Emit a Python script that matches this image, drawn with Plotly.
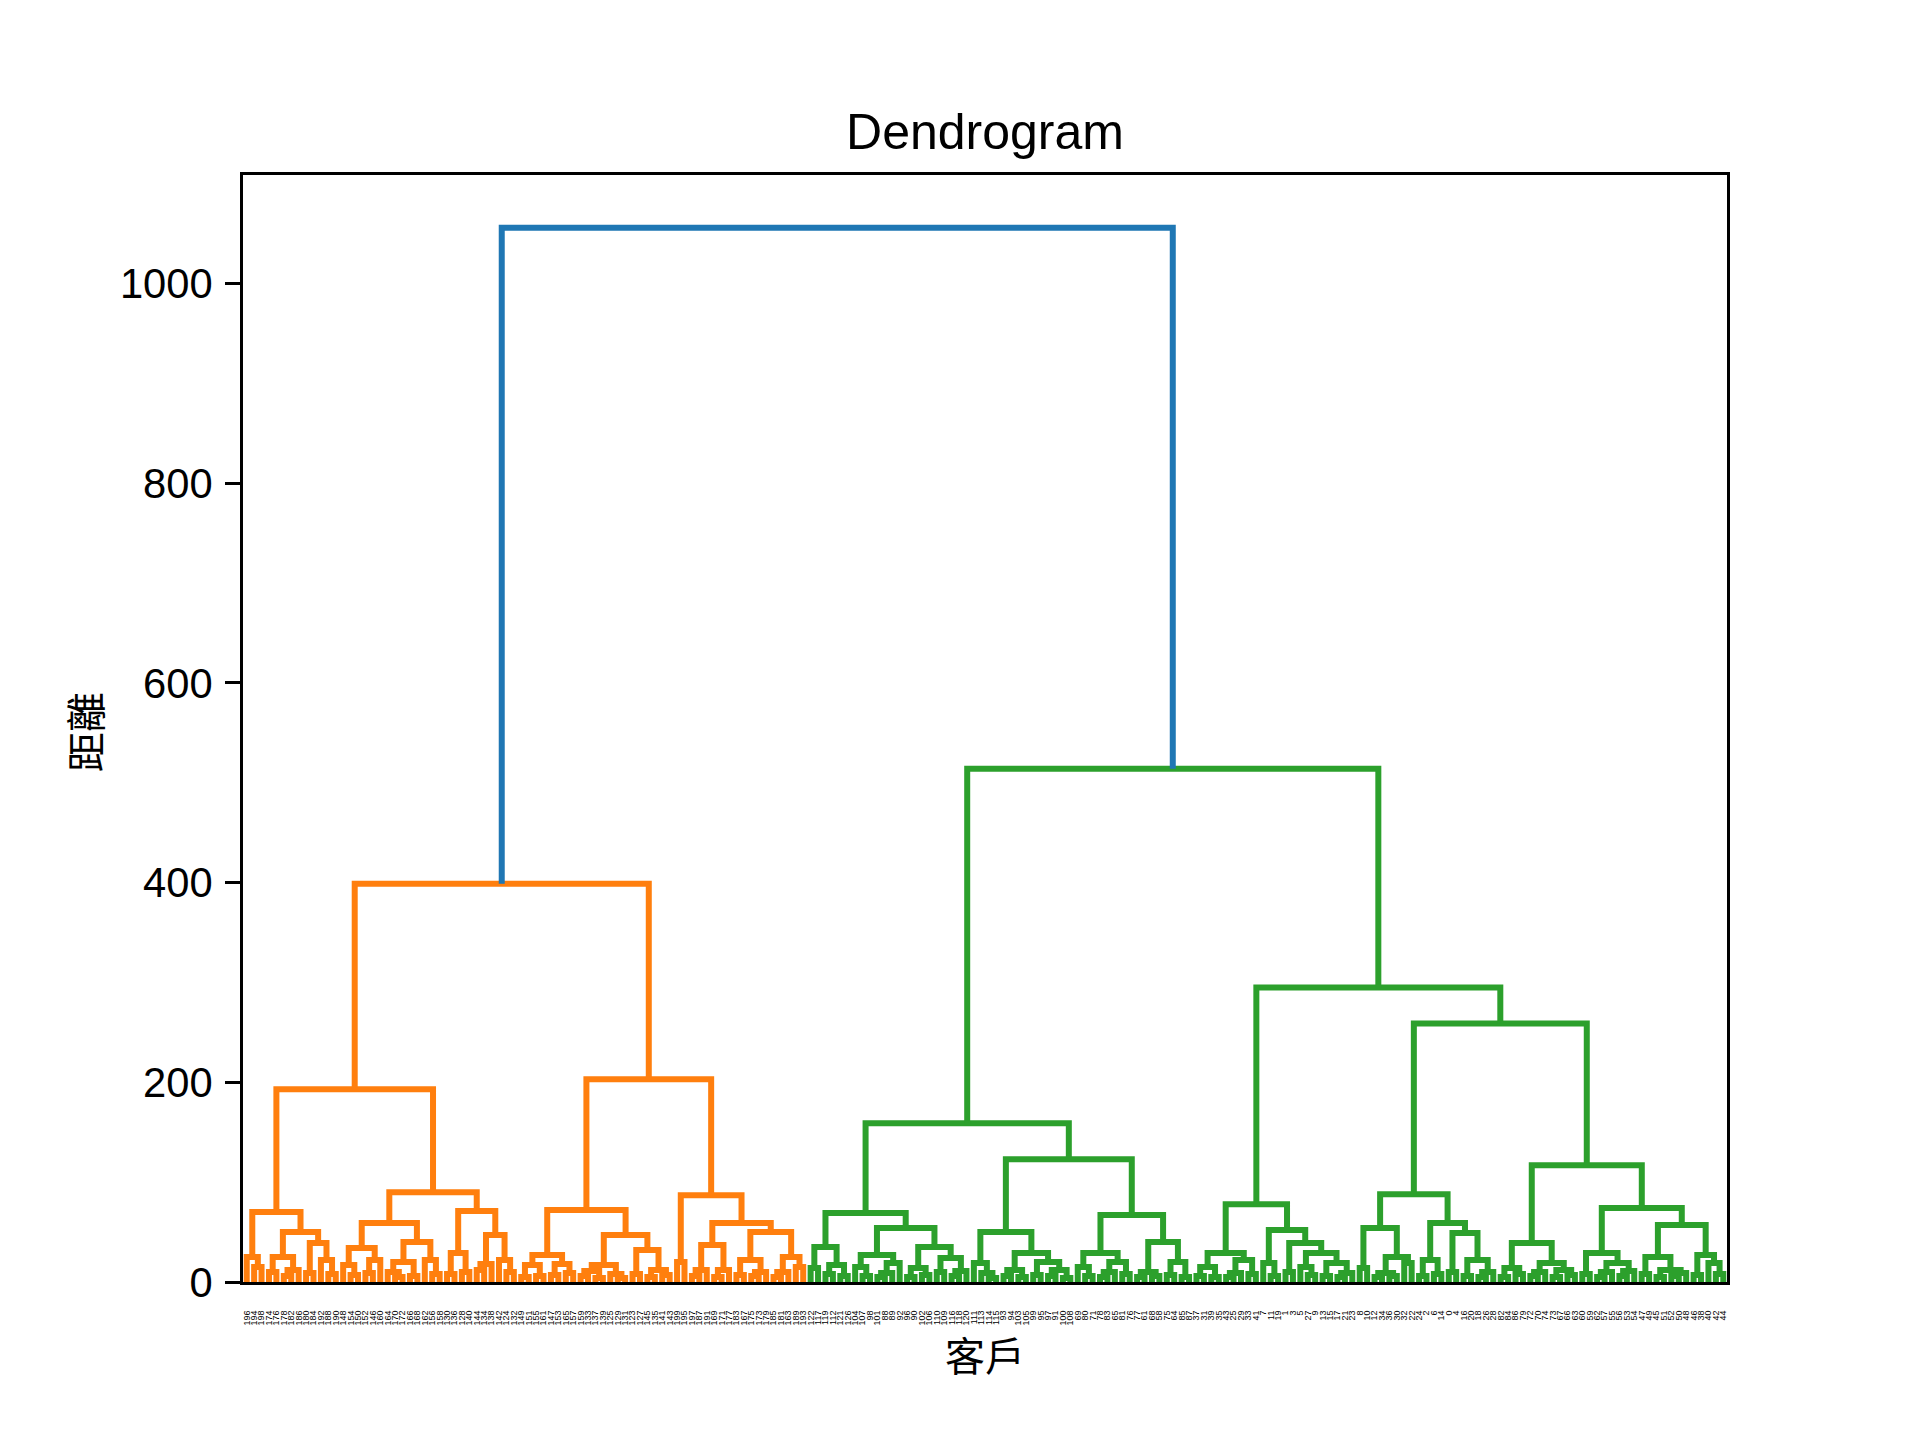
import plotly.graph_objects as go

# ---------------- data ----------------
TITLE = "Dendrogram"
X_TITLE = "客戶"
Y_TITLE = "距離"

# leaf labels, left to right
LEAF_LABELS = [
    196, 194, 198, 174, 176, 178, 182, 186, 180, 184, 192, 188, 190, 148, 154, 150, 152, 146, 160, 164,
    170, 172, 166, 168, 162, 156, 158, 130, 136, 128, 140, 144, 134, 138, 142, 124, 132,
    149, 151, 155, 161, 147, 153, 165, 157, 159, 133, 137, 139, 125, 129, 131, 123, 127, 145, 135,
    141, 143, 199, 195, 197, 187, 191, 169, 171, 177, 183, 167, 175, 173, 179, 185, 181, 163, 189, 193,
    122, 117, 119, 112, 121, 126, 104, 107, 98, 101, 88, 89, 92, 96, 90, 102, 106, 110, 109, 116,
    118, 120, 111, 113,
    114, 115, 93, 94, 103, 105, 99, 95, 97, 91, 100, 108, 69, 80, 71, 78, 83, 65, 81, 76,
    77, 61, 68, 58, 75, 64, 85, 87,
    37, 31, 39, 35, 43, 25, 29, 33, 41, 7, 11, 19, 1, 3, 5, 27, 9, 13, 15, 17, 21, 23,
    8, 10, 12, 34, 36, 30, 32, 22, 24, 2, 6, 14, 0, 4, 16, 20, 18, 26, 28,
    82, 84, 86, 79, 72, 70, 74, 73, 67, 66, 63, 60, 59, 62, 57, 55, 56, 53, 54, 47,
    49, 45, 51, 52, 50, 48, 46, 38, 40, 42, 44,
]

# merge height between each pair of neighbouring leaves (gap i = between leaf i and leaf i+1)
ORANGE_GAPS = [
    25, 15, 70, 10, 25, 6, 12, 50, 9, 39, 22, 8, 193, 17, 7, 34, 9, 22, 59, 10,
    5, 20, 6, 40, 22, 8, 90, 8, 29, 10, 71, 12, 18, 47, 22, 10, 399,
    5, 17, 6, 27, 7, 18, 9, 72, 6, 11, 4, 17, 8, 4, 47, 8, 32, 5, 12,
    7, 203, 20, 87, 6, 12, 37, 5, 12, 59, 7, 22, 6, 10, 50, 5, 10, 25, 15,
]
ROOT_GAP = [1056]
GREEN_GAPS = [
    14, 35, 8, 17, 6, 69, 15, 6, 27, 5, 9, 19, 54, 5, 14, 7, 35, 10, 24, 6,
    11, 159,
    19, 9, 4, 50, 6, 12, 5, 29, 7, 20, 6, 12, 4, 123,
    15, 6, 29, 5, 10, 20, 8, 67, 5, 10, 6, 40, 7, 20, 5,
    514,
    6, 15, 5, 29, 5, 9, 22, 8, 78, 19, 6, 52, 10, 39, 15, 7, 29, 6, 19, 5, 9,
    295,
    14, 54, 5, 9, 6, 25, 19, 88, 6, 22, 8, 59, 10, 49, 6, 22, 5, 10,
    259,
    5, 14, 8, 39, 6, 10, 19, 5, 12, 7, 117, 8, 29, 5, 10, 19, 6, 11, 74, 8,
    25, 5, 12, 6, 9, 57, 7, 27, 19, 8,
]
Y_TICKS = [0, 200, 400, 600, 800, 1000]

# ---------------- build the dendrogram ----------------
gaps = ORANGE_GAPS + ROOT_GAP + GREEN_GAPS
n = len(LEAF_LABELS)
assert len(gaps) == n - 1, len(gaps)
assert sorted(LEAF_LABELS) == list(range(n))

threshold = 0.7 * max(gaps)
palette = ["#ff7f0e", "#2ca02c", "#d62728", "#9467bd", "#8c564b",
           "#e377c2", "#7f7f7f", "#bcbd22", "#17becf"]
above_color = "#1f77b4"
segs = {}
ncol = [0]


def add(color, xs, ys):
    s = segs.setdefault(color, ([], []))
    s[0].extend(xs + [None])
    s[1].extend(ys + [None])


def build(lo, hi, color):
    if lo == hi:
        return 5 + 10 * lo, 0.0
    k = max(range(lo, hi), key=lambda j: gaps[j])
    h = gaps[k]
    if h >= threshold:
        c = above_color
        child = None
    else:
        if color is None:
            color = palette[ncol[0] % len(palette)]
            ncol[0] += 1
        c = color
        child = color
    xl, hl = build(lo, k, child)
    xr, hr = build(k + 1, hi, child)
    add(c, [xl, xl, xr, xr], [hl, h, h, hr])
    return (xl + xr) / 2.0, h


build(0, n - 1, None)

fig = go.Figure()
for color, (xs, ys) in segs.items():
    fig.add_trace(go.Scatter(x=xs, y=ys, mode="lines",
                             line=dict(color=color, width=6),
                             hoverinfo="skip", showlegend=False))

font_main = "Liberation Sans, Arial, sans-serif"
font_cjk = "Noto Sans CJK TC, Noto Sans CJK SC, sans-serif"

fig.update_layout(
    width=1920, height=1440,
    margin=dict(l=235, r=201, t=167, b=166, pad=0),
    paper_bgcolor="white", plot_bgcolor="white",
    title=dict(text=TITLE, x=0.5, xref="paper", xanchor="center",
               y=1 - 123 / 1440, yref="container", yanchor="middle",
               font=dict(family=font_main, size=50, color="black")),
    xaxis=dict(range=[0, 10 * n], tickmode="array",
               tickvals=[5 + 10 * i for i in range(n)],
               ticktext=[str(v) for v in LEAF_LABELS],
               tickangle=-90, ticks="", ticklabelstandoff=22,
               tickfont=dict(family=font_main, size=9, color="black"),
               showline=True, mirror=True, linecolor="black", linewidth=3,
               showgrid=False, zeroline=False),
    yaxis=dict(range=[0, max(gaps) * 1.05], tickmode="array", tickvals=Y_TICKS,
               ticks="outside", ticklen=15, tickwidth=3, tickcolor="black",
               ticklabelstandoff=4,
               tickfont=dict(family=font_main, size=41.7, color="black"),
               showline=True, mirror=True, linecolor="black", linewidth=3,
               showgrid=False, zeroline=False),
    annotations=[
        dict(text=X_TITLE, xref="paper", yref="paper", x=0.5, y=(1282 - 1354) / 1109,
             xanchor="center", yanchor="middle", showarrow=False,
             font=dict(family=font_cjk, size=40, color="black")),
        dict(text=Y_TITLE, xref="paper", yref="paper", x=(80 - 240) / 1488, y=0.497,
             xanchor="center", yanchor="middle", showarrow=False, textangle=-90,
             font=dict(family=font_cjk, size=40, color="black")),
    ],
)

fig.write_html("out.html")
